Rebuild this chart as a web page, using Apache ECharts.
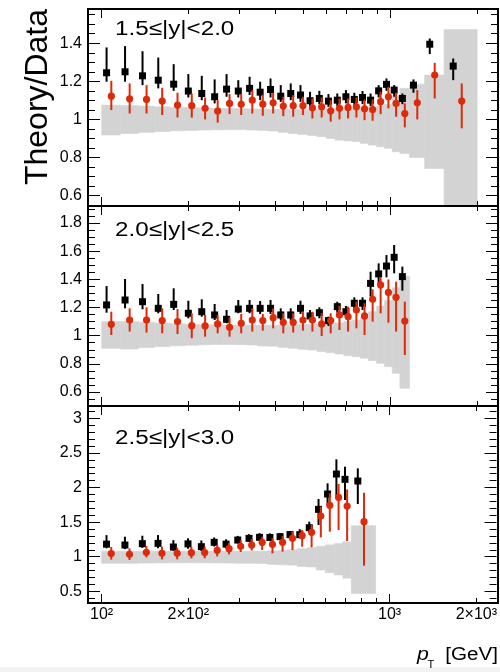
<!DOCTYPE html>
<html><head><meta charset="utf-8">
<script src="https://cdn.jsdelivr.net/npm/echarts@6/dist/echarts.min.js"></script>
<style>html,body{margin:0;padding:0;background:#fff}#c{width:500px;height:672px}</style>
</head><body><div id="c"></div><script>
// ---------------- data ----------------
const panelTitles = ['1.5\u2264|y|<2.0', '2.0\u2264|y|<2.5', '2.5\u2264|y|<3.0'];
const yTickLabels1 = [0.6, 0.8, 1, 1.2, 1.4];
const yTickLabels2 = [0.6, 0.8, 1, 1.2, 1.4, 1.6, 1.8];
const yTickLabels3 = [0.5, 1, 1.5, 2, 2.5, 3];
const xTickValues = [100, 200, 1000, 2000];
const xTickLabels = ['10\u00B2', '2\u00D710\u00B2', '10\u00B3', '2\u00D710\u00B3'];

// pT bin edges [GeV]
const edges1 = [100,116,134,152,172,194,216,240,264,290,318,346,376,408,442,478,516,556,598,642,688,736,786,838,894,952,1012,1076,1162,1310,1530,1992];
const edges2 = [100,116,134,152,172,194,216,240,264,290,318,346,376,408,442,478,516,556,598,642,688,736,786,838,894,952,1012,1076,1162];
const edges3 = [100,116,134,152,172,194,216,240,264,290,318,346,376,408,442,478,516,556,598,642,688,736,894];

// 1.5<=|y|<2.0
const black1   = [1.245,1.250,1.229,1.206,1.185,1.149,1.136,1.119,1.159,1.149,1.163,1.143,1.157,1.122,1.136,1.128,1.098,1.110,1.096,1.101,1.119,1.105,1.115,1.101,1.150,1.184,1.154,1.110,1.180,1.395,1.280];
const black1Up = [0.133,0.135,0.129,0.119,0.105,0.089,0.093,0.091,0.079,0.057,0.061,0.055,0.058,0.058,0.053,0.052,0.047,0.040,0.037,0.035,0.035,0.035,0.034,0.035,0.030,0.031,0.026,0.026,0.030,0.030,0.040];
const black1Dn = [0.047,0.052,0.049,0.043,0.035,0.034,0.035,0.035,0.040,0.034,0.035,0.042,0.042,0.030,0.035,0.036,0.028,0.030,0.030,0.031,0.035,0.030,0.035,0.031,0.035,0.034,0.035,0.030,0.040,0.052,0.074];
const red1     = [1.122,1.108,1.105,1.096,1.075,1.072,1.058,1.044,1.084,1.079,1.101,1.080,1.087,1.070,1.072,1.072,1.061,1.066,1.045,1.058,1.063,1.066,1.056,1.052,1.093,1.119,1.084,1.031,1.087,1.233,1.096];
const red1Up   = [0.081,0.081,0.075,0.070,0.065,0.064,0.057,0.057,0.049,0.054,0.053,0.051,0.053,0.049,0.056,0.047,0.049,0.049,0.056,0.052,0.047,0.049,0.049,0.053,0.052,0.052,0.056,0.053,0.067,0.064,0.093];
const red1Dn   = [0.073,0.077,0.074,0.073,0.065,0.063,0.058,0.061,0.056,0.056,0.070,0.061,0.056,0.053,0.058,0.049,0.056,0.056,0.057,0.058,0.058,0.056,0.060,0.059,0.065,0.061,0.070,0.073,0.087,0.123,0.143];
const band1Hi  = [1.075,1.073,1.070,1.066,1.063,1.062,1.060,1.058,1.057,1.056,1.055,1.054,1.053,1.053,1.053,1.053,1.053,1.053,1.055,1.056,1.058,1.060,1.062,1.066,1.070,1.080,1.120,1.163,1.185,1.233,1.472];
const band1Lo  = [0.918,0.926,0.932,0.936,0.940,0.942,0.944,0.945,0.946,0.946,0.944,0.942,0.939,0.932,0.926,0.921,0.915,0.909,0.900,0.891,0.887,0.883,0.874,0.865,0.856,0.848,0.830,0.821,0.800,0.742,0.400];

// 2.0<=|y|<2.5
const black2   = [1.218,1.253,1.241,1.194,1.222,1.159,1.170,1.147,1.116,1.189,1.194,1.194,1.194,1.147,1.147,1.194,1.140,1.163,1.107,1.206,1.170,1.230,1.230,1.371,1.438,1.494,1.556,1.419];
const black2Up = [0.134,0.149,0.126,0.102,0.114,0.089,0.088,0.078,0.066,0.064,0.059,0.052,0.059,0.047,0.047,0.054,0.042,0.038,0.028,0.035,0.041,0.042,0.042,0.083,0.075,0.078,0.087,0.071];
const black2Dn = [0.055,0.059,0.054,0.035,0.040,0.036,0.035,0.036,0.028,0.030,0.035,0.040,0.040,0.036,0.040,0.040,0.033,0.040,0.038,0.043,0.040,0.043,0.048,0.094,0.078,0.080,0.114,0.100];
const red2     = [1.081,1.111,1.111,1.107,1.100,1.071,1.069,1.083,1.059,1.088,1.111,1.107,1.128,1.095,1.095,1.111,1.111,1.083,1.107,1.147,1.135,1.182,1.140,1.258,1.360,1.307,1.272,1.104];
const red2Up   = [0.089,0.083,0.090,0.087,0.089,0.088,0.078,0.064,0.071,0.066,0.083,0.047,0.066,0.064,0.064,0.059,0.059,0.076,0.052,0.064,0.071,0.059,0.090,0.071,0.054,0.092,0.111,0.137];
const red2Dn   = [0.076,0.082,0.089,0.090,0.088,0.089,0.076,0.066,0.066,0.071,0.082,0.071,0.076,0.078,0.073,0.075,0.082,0.085,0.090,0.107,0.106,0.130,0.135,0.158,0.201,0.215,0.243,0.241];
const band2Hi  = [1.100,1.100,1.095,1.090,1.085,1.080,1.078,1.076,1.075,1.074,1.074,1.074,1.074,1.075,1.076,1.078,1.080,1.083,1.087,1.090,1.100,1.110,1.130,1.170,1.210,1.250,1.340,1.420];
const band2Lo  = [0.910,0.905,0.915,0.922,0.928,0.932,0.935,0.937,0.937,0.936,0.934,0.927,0.925,0.917,0.910,0.903,0.898,0.887,0.879,0.870,0.858,0.851,0.840,0.823,0.804,0.780,0.733,0.627];

// 2.5<=|y|<3.0
const black3   = [1.182,1.169,1.188,1.193,1.140,1.186,1.145,1.208,1.182,1.241,1.265,1.280,1.278,1.290,1.320,1.318,1.419,1.684,1.906,2.195,2.118,2.094];
const black3Up = [0.130,0.120,0.115,0.120,0.100,0.080,0.090,0.070,0.070,0.060,0.060,0.060,0.060,0.050,0.050,0.080,0.087,0.150,0.154,0.212,0.183,0.183];
const black3Dn = [0.060,0.060,0.060,0.070,0.055,0.070,0.060,0.060,0.060,0.050,0.050,0.050,0.050,0.050,0.050,0.050,0.072,0.226,0.159,0.328,0.299,0.333];
const red3     = [1.045,1.034,1.063,1.049,1.049,1.058,1.060,1.092,1.116,1.150,1.169,1.208,1.179,1.208,1.265,1.304,1.352,1.588,1.742,1.857,1.732,1.506];
const red3Up   = [0.096,0.087,0.092,0.096,0.082,0.087,0.087,0.082,0.082,0.086,0.090,0.082,0.090,0.090,0.097,0.082,0.106,0.135,0.174,0.193,0.241,0.419];
const red3Dn   = [0.087,0.082,0.072,0.087,0.087,0.082,0.082,0.087,0.082,0.082,0.080,0.111,0.130,0.135,0.168,0.159,0.217,0.308,0.380,0.471,0.505,0.636];
const band3Hi  = [1.080,1.080,1.080,1.080,1.080,1.080,1.080,1.080,1.080,1.080,1.080,1.080,1.085,1.090,1.100,1.115,1.130,1.150,1.170,1.190,1.215,1.448];
const band3Lo  = [0.904,0.905,0.908,0.910,0.912,0.912,0.912,0.910,0.908,0.905,0.904,0.902,0.889,0.884,0.878,0.858,0.852,0.808,0.769,0.736,0.690,0.470];

// ---------------- layout / style ----------------
const FONT = '"Liberation Sans", Arial, Helvetica, sans-serif';
const RED = '#dc2a0a', GRAY = '#d3d3d3';
const PL = 88, PR = 498;
const X_MIN = 89.7, X_MAX = 2351;
const LX_MIN = Math.log10(X_MIN), LX_MAX = Math.log10(X_MAX);
const TEXT_SX = 1.18; // the reference's lettering is slightly widened

const panels = [
  {top: 9,   height: 197, edges: edges1, yMin: 0.545, yMax: 1.58, labels: yTickLabels1, majorStep: 0.2, minorStep: 0.05,
   black: [black1, black1Up, black1Dn], red: [red1, red1Up, red1Dn], band: [band1Lo, band1Hi], titleY: 29.5},
  {top: 206, height: 200, edges: edges2, yMin: 0.501, yMax: 1.92, labels: yTickLabels2, majorStep: 0.2, minorStep: 0.05,
   black: [black2, black2Up, black2Dn], red: [red2, red2Up, red2Dn], band: [band2Lo, band2Hi], titleY: 230.5},
  {top: 406, height: 197, edges: edges3, yMin: 0.331, yMax: 3.178, labels: yTickLabels3, majorStep: 0.5, minorStep: 0.1,
   black: [black3, black3Up, black3Dn], red: [red3, red3Up, red3Dn], band: [band3Lo, band3Hi], titleY: 438}
];

function minorTicks(p) {
  const out = [];
  const k0 = Math.ceil(p.yMin / p.minorStep - 1e-9), k1 = Math.floor(p.yMax / p.minorStep + 1e-9);
  for (let k = k0; k <= k1; k++) {
    const v = Math.round(k * p.minorStep * 1000) / 1000;
    const r = v / p.majorStep;
    if (Math.abs(r - Math.round(r)) > 1e-6) out.push(v);
  }
  return out;
}
const xMajorLog = [2, 3];
const xMinorLog = [];
[200,300,400,500,600,700,800,900,2000].forEach(v => xMinorLog.push(Math.log10(v)));
function xLabel(v) {
  for (let i = 0; i < xTickValues.length; i++) if (Math.abs(Math.log10(xTickValues[i]) - v) < 1e-6) return xTickLabels[i];
  return '';
}
const tickLine = {color: '#000', width: 1};

const grid = [], xAxis = [], yAxis = [], series = [], graphic = [];

panels.forEach((p, i) => {
  grid.push({left: PL, top: p.top, width: PR - PL, height: p.height, show: false});
  const xData = xAxis.length;
  xAxis.push({type: 'log', logBase: 10, gridIndex: i, min: X_MIN, max: X_MAX, show: false,
              axisLine: {show: false, onZero: false}});
  ['bottom', 'top'].forEach(pos => {
    [['major', xMajorLog], ['minor', xMinorLog]].forEach(([kind, vals]) => {
      const showLab = (i === 2 && pos === 'bottom');
      xAxis.push({
        type: 'value', gridIndex: i, position: pos, min: LX_MIN, max: LX_MAX, z: 10,
        axisLine: {show: false, onZero: false}, splitLine: {show: false},
        axisTick: {show: true, inside: true, length: kind === 'major' ? 9 : 5, customValues: vals, lineStyle: tickLine},
        axisLabel: {show: showLab, customValues: kind === 'major' ? [2, 3] : [Math.log10(200), Math.log10(2000)],
                    formatter: xLabel, color: '#000', fontSize: 16, fontFamily: FONT, margin: 4}
      });
    });
  });
  const yData = yAxis.length;
  const minors = minorTicks(p);
  ['left', 'right'].forEach(pos => {
    [['major', p.labels], ['minor', minors]].forEach(([kind, vals]) => {
      const showLab = (pos === 'left' && kind === 'major');
      yAxis.push({
        type: 'value', gridIndex: i, position: pos, min: p.yMin, max: p.yMax, z: 10,
        axisLine: {show: false, onZero: false}, splitLine: {show: false},
        axisTick: {show: true, inside: true, length: kind === 'major' ? 12 : 7, customValues: vals, lineStyle: tickLine},
        axisLabel: {show: showLab, customValues: p.labels, formatter: v => String(Math.round(v * 100) / 100),
                    color: '#000', fontSize: 16, fontFamily: FONT, margin: 6}
      });
    });
  });

  const bandData = [];
  for (let k = 0; k < p.edges.length - 1; k++) bandData.push([p.edges[k], p.edges[k + 1], p.band[0][k], p.band[1][k]]);
  series.push({
    type: 'custom', xAxisIndex: xData, yAxisIndex: yData, z: 1, silent: true,
    encode: {x: [0, 1], y: [2, 3]}, data: bandData,
    renderItem: (params, api) => {
      const a = api.coord([api.value(0), api.value(3)]);
      const b = api.coord([api.value(1), api.value(2)]);
      const cs = params.coordSys;
      const r = echarts.graphic.clipRectByRect(
        {x: a[0], y: a[1], width: b[0] - a[0], height: b[1] - a[1]},
        {x: cs.x, y: cs.y, width: cs.width, height: cs.height});
      if (!r) return null;
      return {type: 'rect', shape: r, style: {fill: GRAY, stroke: GRAY, lineWidth: 0.6}};
    }
  });

  [['black', p.black, 0.25, '#000'], ['red', p.red, 0.5, RED]].forEach(([name, arr, frac, color]) => {
    const d = [];
    for (let k = 0; k < p.edges.length - 1; k++) {
      const lo = p.edges[k], hi = p.edges[k + 1];
      d.push([lo + frac * (hi - lo), arr[0][k], arr[0][k] - arr[2][k], arr[0][k] + arr[1][k]]);
    }
    series.push({
      type: 'custom', name, xAxisIndex: xData, yAxisIndex: yData, z: name === 'black' ? 3 : 4, silent: true,
      encode: {x: 0, y: [1, 2, 3]}, data: d,
      renderItem: (params, api) => {
        const c = api.coord([api.value(0), api.value(1)]);
        const l = api.coord([api.value(0), api.value(2)]);
        const h = api.coord([api.value(0), api.value(3)]);
        const marker = name === 'black'
          ? {type: 'rect', shape: {x: c[0] - 3.5, y: c[1] - 3.5, width: 7, height: 7}, style: {fill: color}}
          : {type: 'circle', shape: {cx: c[0], cy: c[1], r: 3.6}, style: {fill: color}};
        return {type: 'group', children: [
          {type: 'line', shape: {x1: c[0], y1: l[1], x2: c[0], y2: h[1]}, style: {stroke: color, lineWidth: 2}},
          marker
        ]};
      }
    });
  });

  graphic.push({type: 'rect', z: 100, silent: true, shape: {x: PL, y: p.top, width: PR - PL, height: p.height},
                style: {fill: null, stroke: '#000', lineWidth: 2}});
  graphic.push({type: 'text', z: 100, silent: true, x: 115, y: p.titleY, scaleX: TEXT_SX,
                style: {text: panelTitles[i], fontSize: 20.5, fontFamily: FONT, fill: '#000', align: 'left', verticalAlign: 'middle'}});
});

graphic.push({type: 'text', z: 100, silent: true, x: 38, y: 97, rotation: Math.PI / 2,
              style: {text: 'Theory/Data', fontSize: 32, fontFamily: FONT, fill: '#000', align: 'center', verticalAlign: 'middle'}});
graphic.push({type: 'text', z: 100, silent: true, x: 417, y: 655, scaleX: TEXT_SX,
              style: {text: 'p', fontSize: 18, fontStyle: 'italic', fontFamily: FONT, fill: '#000', align: 'left', verticalAlign: 'middle'}});
graphic.push({type: 'text', z: 100, silent: true, x: 427.5, y: 665,
              style: {text: 'T', fontSize: 11, fontFamily: FONT, fill: '#000', align: 'left', verticalAlign: 'middle'}});
graphic.push({type: 'text', z: 100, silent: true, x: 498, y: 655, scaleX: TEXT_SX,
              style: {text: '[GeV]', fontSize: 17.5, fontFamily: FONT, fill: '#000', align: 'right', verticalAlign: 'middle'}});
graphic.push({type: 'rect', z: 0, silent: true, shape: {x: 0, y: 667, width: 500, height: 5}, style: {fill: '#f2f2f2'}});

const chart = echarts.init(document.getElementById('c'), null, {renderer: 'canvas', width: 500, height: 672});
chart.setOption({animation: false, backgroundColor: '#fff', grid, xAxis, yAxis, series, graphic});
</script></body></html>
